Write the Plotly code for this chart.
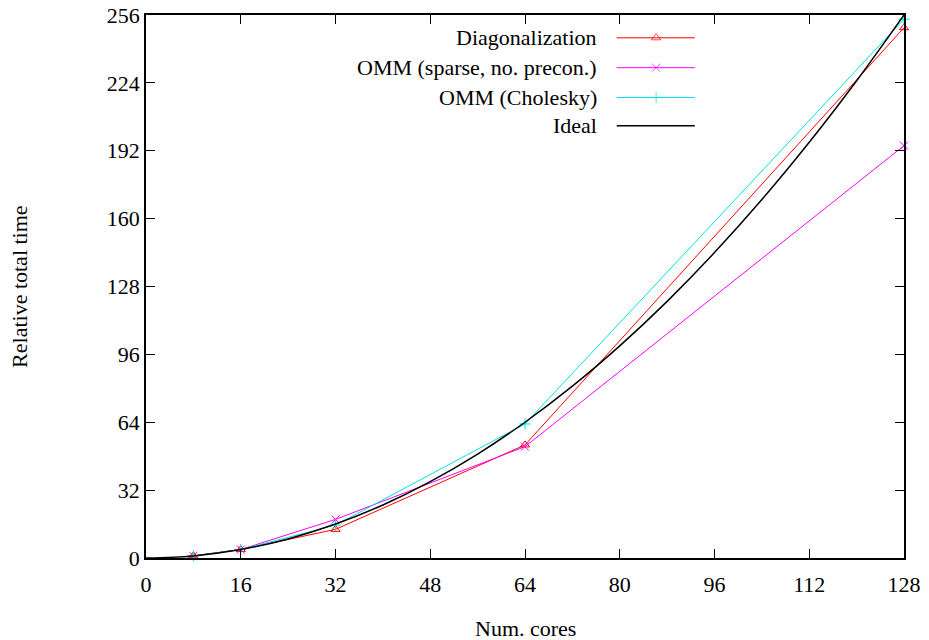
import plotly.graph_objects as go

cores = [8, 16, 32, 64, 128]
diag = [1, 4, 13.5, 53.3, 250]
omm_sparse = [1, 4, 18.2, 52.5, 194.4]
omm_chol = [1, 4, 15.5, 63.2, 254]

ideal_x = [0, 8, 16, 24, 32, 40, 48, 56, 64, 72, 80, 88, 96, 104, 112, 120, 128]
ideal_y = [0, 1, 4, 9, 16, 25, 36, 49, 64, 81, 100, 121, 144, 169, 196, 225, 256]

x_ticks = [0, 16, 32, 48, 64, 80, 96, 112, 128]
y_ticks = [0, 32, 64, 96, 128, 160, 192, 224, 256]

names = ["Diagonalization", "OMM (sparse, no. precon.)", "OMM (Cholesky)", "Ideal"]
colors = ["#ff0000", "#ff00ff", "#00e0e0", "#000000"]
symbols = ["triangle-up-open", "x-thin", "cross-thin", None]

FONT = "Liberation Serif"
FS = 22

fig = go.Figure()

series = [diag, omm_sparse, omm_chol]
for i, ys in enumerate(series):
    fig.add_trace(go.Scatter(
        x=cores, y=ys, mode="lines+markers",
        line=dict(color=colors[i], width=1),
        marker=dict(symbol=symbols[i], size=8, color=colors[i],
                    line=dict(color=colors[i], width=1)),
        showlegend=False, cliponaxis=False))

fig.add_trace(go.Scatter(
    x=ideal_x, y=ideal_y, mode="lines", line=dict(color="black", width=1.5, shape="spline"),
    showlegend=False, cliponaxis=False))

# manual gnuplot-style legend (text right-aligned, sample on the right)
leg_y = [0.958, 0.903, 0.848, 0.796]
for i, name in enumerate(names):
    fig.add_annotation(xref="paper", yref="paper", x=0.597, y=leg_y[i], text=name,
                       showarrow=False, xanchor="right", yanchor="middle",
                       font=dict(family=FONT, size=FS, color="black"))
    msize = [0, 8, 0] if symbols[i] else [0, 0, 0]
    fig.add_trace(go.Scatter(
        x=[0.621, 0.673, 0.724], y=[leg_y[i]] * 3, xaxis="x2", yaxis="y2",
        mode="lines+markers",
        line=dict(color=colors[i], width=1.5 if i == 3 else 1),
        marker=dict(symbol=symbols[i] or "circle", size=msize, color=colors[i],
                    line=dict(color=colors[i], width=1)),
        showlegend=False, hoverinfo="skip"))

# axis titles
fig.add_annotation(xref="paper", yref="paper", x=0.5, y=-0.13, text="Num. cores",
                   showarrow=False, xanchor="center", yanchor="middle",
                   font=dict(family=FONT, size=FS, color="black"))
fig.add_annotation(xref="paper", yref="paper", x=-0.167, y=0.5, text="Relative total time",
                   showarrow=False, xanchor="center", yanchor="middle", textangle=-90,
                   font=dict(family=FONT, size=FS, color="black"))

axis_common = dict(
    showgrid=False, zeroline=False, showline=True, linecolor="black", linewidth=1.5,
    mirror="allticks", ticks="inside", ticklen=9, tickwidth=1.2, tickcolor="black",
    automargin=False,
    tickfont=dict(family=FONT, size=FS, color="black"))

fig.update_layout(
    template="none",
    width=929, height=640,
    font=dict(family=FONT, size=FS, color="#000000"),
    margin=dict(l=146, r=25, t=15, b=82),
    paper_bgcolor="white", plot_bgcolor="white",
    xaxis=dict(range=[0, 128], tickvals=x_ticks, ticktext=[str(v) for v in x_ticks],
               ticklabelstandoff=6, **axis_common),
    yaxis=dict(range=[0, 256], tickvals=y_ticks, ticktext=[str(v) for v in y_ticks],
               **axis_common),
    xaxis2=dict(overlaying="x", range=[0, 1], visible=False),
    yaxis2=dict(overlaying="y", range=[0, 1], visible=False),
)

fig.write_html("out.html")
